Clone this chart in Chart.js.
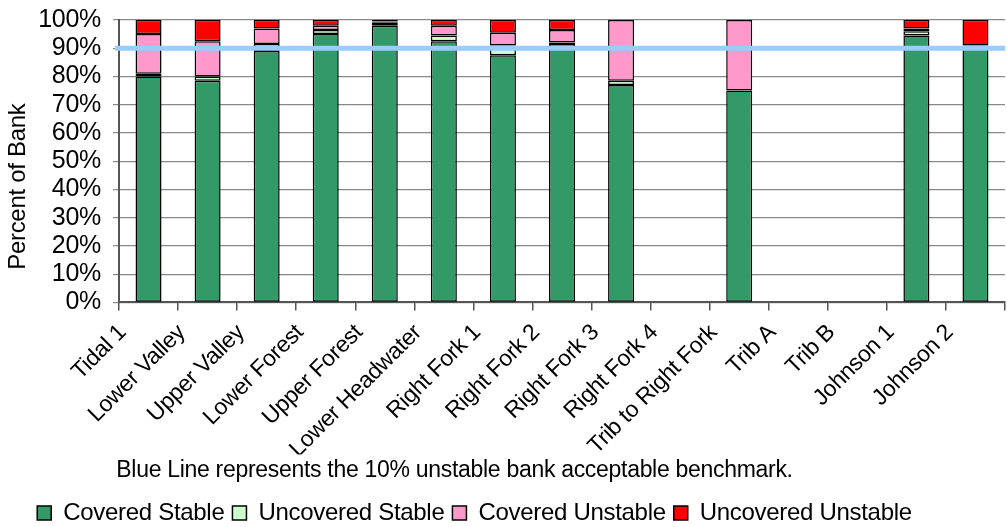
<!DOCTYPE html>
<html>
<head>
<meta charset="utf-8">
<script src="https://cdn.jsdelivr.net/npm/chart.js@4"></script>
<style>
    html, body { margin: 0; padding: 0; background: #fff; }
    #wrap { width: 1007px; height: 527px; }
</style>
</head>
<body>
<div id="wrap"><canvas id="bankChart"></canvas></div>
<script>
"use strict";

// 区間名
const reaches = [
    "Tidal 1", "Lower Valley", "Upper Valley", "Lower Forest", "Upper Forest",
    "Lower Headwater", "Right Fork 1", "Right Fork 2", "Right Fork 3", "Right Fork 4",
    "Trib to Right Fork", "Trib A", "Trib B", "Johnson 1", "Johnson 2",
];

// 各区間の割合 (%)  null は調査なし
const coveredStable = [80, 78.5, 89, 95, 98, 92.5, 87.5, 91.5, 77, null, 75, null, null, 94.5, 91];
const uncoveredStable = [1, 1.5, 2.5, 1.5, 1, 2, 3.5, 0.5, 1.5, null, null, null, null, 1.5, null];
const coveredUnstable = [14, 12.5, 5.5, 1.5, 0.5, 3.5, 4.5, 4.5, 21.5, null, 25, null, null, 1, null];
const uncoveredUnstable = [5, 7.5, 3, 2, 0.5, 2, 4.5, 3.5, null, null, null, null, null, 3, 9];

// 基準線 (不安定 10%)
const benchmark = 90;
const yTicks = [0, 10, 20, 30, 40, 50, 60, 70, 80, 90, 100];

const FONT = "'Liberation Sans', Arial, sans-serif";
// ラベル末尾の余白 (斜めラベルを左下へ寄せる)
const LABEL_PAD = "      ";

const makeSet = (label, data, color) => ({
    label: label,
    data: data,
    backgroundColor: color,
    borderColor: "#000",
    borderWidth: 1.5,
    borderSkipped: false,
    barPercentage: 0.44,
    categoryPercentage: 1,
});

// 青い基準線を描く
const benchmarkLine = {
    id: "benchmarkLine",
    beforeUpdate: (chart) => {
        chart.ctx.letterSpacing = "-0.3px";
    },
    afterLayout: (chart) => {
        // 凡例と注記を少し左へ
        chart.legend.left -= 28;
        chart.legend.right -= 28;
        const sub = chart.boxes.find((b) => b.options && b.options.text && b.options.position === "bottom");
        if (sub) {
            sub.left -= 48;
            sub.right -= 48;
        }
    },
    afterDatasetsDraw: (chart) => {
        const ctx = chart.ctx;
        const y = chart.scales.y.getPixelForValue(benchmark);
        ctx.save();
        ctx.strokeStyle = "#99ccff";
        ctx.lineWidth = 5;
        ctx.beginPath();
        ctx.moveTo(chart.chartArea.left - 4, y);
        ctx.lineTo(chart.chartArea.right, y);
        ctx.stroke();
        ctx.restore();
    },
};

const ctx = document.getElementById("bankChart").getContext("2d");
new Chart(ctx, {
    type: "bar",
    data: {
        labels: reaches,
        datasets: [
            makeSet("Covered Stable", coveredStable, "#339966"),
            makeSet("Uncovered Stable", uncoveredStable, "#ccffcc"),
            makeSet("Covered Unstable", coveredUnstable, "#ff99cc"),
            makeSet("Uncovered Unstable", uncoveredUnstable, "#ff0000"),
        ],
    },
    options: {
        responsive: true,
        maintainAspectRatio: false,
        animation: false,
        layout: { padding: { top: 20, right: 2, left: 0, bottom: -8 } },
        plugins: {
            legend: {
                position: "bottom",
                weight: 2000,
                labels: {
                    font: { family: FONT, size: 24 },
                    color: "#000",
                    boxWidth: 14,
                    boxHeight: 14,
                    padding: 8,
                },
            },
            subtitle: {
                display: true,
                position: "bottom",
                weight: 500,
                text: "Blue Line represents the 10% unstable bank acceptable benchmark.",
                font: { family: FONT, size: 23, weight: "normal" },
                color: "#000",
                padding: { top: 2, bottom: 9 },
            },
            tooltip: { enabled: false },
        },
        scales: {
            x: {
                stacked: true,
                grid: {
                    drawOnChartArea: false,
                    drawTicks: true,
                    tickLength: 8,
                    color: "#555",
                    lineWidth: 1.5,
                },
                border: { color: "#555", width: 2 },
                ticks: {
                    minRotation: 45,
                    maxRotation: 45,
                    autoSkip: false,
                    font: { family: FONT, size: 23 },
                    color: "#000",
                    padding: -17,
                    callback: (v, i) => reaches[i] + LABEL_PAD,
                },
                afterFit: (scale) => {
                    scale.height = 152;
                },
            },
            y: {
                stacked: true,
                min: 0,
                max: 100,
                afterBuildTicks: (scale) => {
                    scale.ticks = yTicks.map((v) => ({ value: v }));
                },
                grid: {
                    color: "#888",
                    lineWidth: 1.2,
                    tickLength: 6,
                },
                border: { color: "#555", width: 2 },
                ticks: {
                    autoSkip: false,
                    font: { family: FONT, size: 25 },
                    color: "#000",
                    padding: 12,
                    callback: (v) => v + "%",
                },
                title: {
                    display: true,
                    text: "Percent of Bank        ",
                    font: { family: FONT, size: 24 },
                    color: "#000",
                    padding: { top: 4, bottom: 0 },
                },
                afterFit: (scale) => {
                    scale.width = 119;
                    scale.paddingTop = 0;
                    scale.paddingBottom = 0;
                },
            },
        },
    },
    plugins: [benchmarkLine],
});
</script>
</body>
</html>
